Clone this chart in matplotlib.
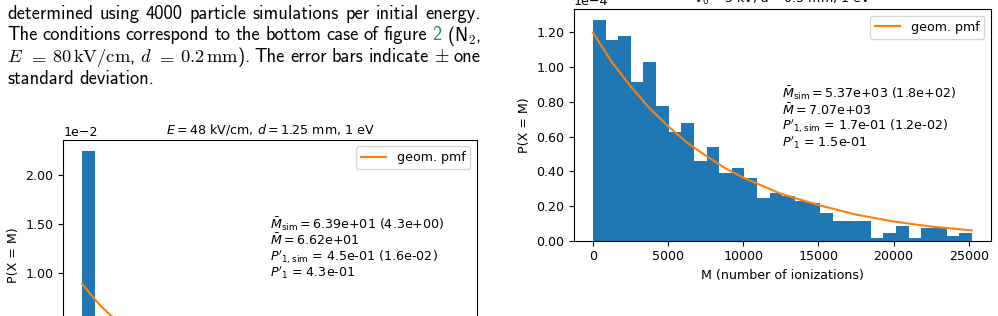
import matplotlib
matplotlib.use("Agg")
import matplotlib.pyplot as plt
import numpy as np
from matplotlib.ticker import ScalarFormatter, MultipleLocator

plt.rcParams['font.size'] = 9.1
plt.rcParams['axes.titlesize'] = 9.1

# left panel: E = 48 kV/cm, d = 1.25 mm (only the top part is visible)
left_heights = np.array([2.25, 0.52, 0.47, 0.40, 0.36, 0.31, 0.27, 0.24, 0.20, 0.18,
                         0.15, 0.13, 0.11, 0.10, 0.08, 0.07, 0.06, 0.05, 0.04, 0.035,
                         0.03, 0.025, 0.02, 0.015, 0.012, 0.01, 0.008, 0.006, 0.004, 0.003]) * 1e-2
left_edges = np.linspace(0, 400, 31)
left_pmf_m = [0, 10, 20, 30, 40, 60, 100, 200, 400]
left_pmf = np.array([0.89, 0.77, 0.66, 0.57, 0.49, 0.37, 0.20, 0.046, 0.0024]) * 1e-2
left_stats = [r'$\bar{M}_\mathrm{sim} = $6.39e+01 (4.3e+00)',
              r'$\bar{M} = $6.62e+01',
              r"$P'_{1,\mathrm{sim}}$ = 4.5e-01 (1.6e-02)",
              r"$P'_1$ = 4.3e-01"]

# right panel: V0 = 5 kV, d = 0.5 mm
right_heights = np.array([1.27, 1.154, 1.182, 0.913, 1.028, 0.778, 0.624, 0.680, 0.46, 0.537,
                          0.392, 0.420, 0.360, 0.246, 0.277, 0.258, 0.227, 0.217, 0.161, 0.113,
                          0.113, 0.113, 0.015, 0.044, 0.084, 0.015, 0.073, 0.073, 0.027, 0.044]) * 1e-4
right_edges = np.linspace(0, 25200, 31)
right_pmf_m = [0, 1250, 2500, 3750, 5000, 6250, 7500, 8750, 10000, 12500, 15000,
               17500, 20000, 22500, 25200]
right_pmf = np.array([1.20, 1.03, 0.89, 0.765, 0.66, 0.565, 0.49, 0.42, 0.363, 0.27, 0.205,
                      0.150, 0.110, 0.081, 0.059]) * 1e-4
right_stats = [r'$\bar{M}_\mathrm{sim} = $5.37e+03 (1.8e+02)',
               r'$\bar{M} = $7.07e+03',
               r"$P'_{1,\mathrm{sim}}$ = 1.7e-01 (1.2e-02)",
               r"$P'_1$ = 1.5e-01"]
stat_rows = [0.636, 0.565, 0.494, 0.424]

W, H = 998, 316
fig = plt.figure(figsize=(W / 100, H / 100), dpi=100)


class TwoDec(ScalarFormatter):
    def _set_format(self):
        self.format = '%1.2f'


def panel(rect, edges, heights, pm, pv, stats, title, step, xlabel=None):
    ax = fig.add_axes(rect)
    ax.bar(edges[:-1], heights, width=np.diff(edges), align='edge', color='#1f77b4')
    ax.plot(pm, pv, color='#ff7f0e', label='geom. pmf')
    ax.yaxis.set_major_locator(MultipleLocator(step))
    ax.yaxis.set_major_formatter(TwoDec())
    ax.ticklabel_format(axis='y', style='sci', scilimits=(0, 0))
    ax.set_ylabel('P(X = M)')
    if xlabel:
        ax.set_xlabel(xlabel)
    ax.set_title(title, pad=4.5)
    ax.legend(loc='upper right')
    for s, yr in zip(stats, stat_rows):
        ax.text(0.5, yr, s, transform=ax.transAxes, va='center')
    return ax


panel([63.3 / W, (316 - 370.6) / H, 413.4 / W, 230.6 / H], left_edges, left_heights,
      left_pmf_m, left_pmf, left_stats, r'$E = 48$ kV/cm, $d = 1.25$ mm, 1 eV', 0.5e-2)
panel([574 / W, (316 - 240.6) / H, 416.7 / W, 231.3 / H], right_edges, right_heights,
      right_pmf_m, right_pmf, right_stats, r'$V_0 = 5$ kV, $d = 0.5$ mm, 1 eV', 0.2e-4,
      xlabel='M (number of ionizations)')

# caption text of the page, justified word by word
renderer = fig.canvas.get_renderer()
teal = '#2f8080'
lines = [
    ('determined using 4000 particle simulations per initial energy.'.split(), 19, False),
    ('The conditions correspond to the bottom case of figure'.split() + [('2', teal), r'(N$_\mathsf{2}$,'], 40.5, False),
    ([r'$E$', r'$=$', r'$80\,\mathrm{kV/cm}$,', r'$d$', r'$=$', r'$0.2\,\mathrm{mm}$).',
      'The', 'error', 'bars', 'indicate', r'$\pm$', 'one'], 62, False),
    ('standard deviation.'.split(), 83.5, True),
]
x0, x1 = 7, 481
for words, yb, last in lines:
    arts = []
    for w in words:
        txt, col = (w if isinstance(w, tuple) else (w, 'black'))
        arts.append(fig.text(0, 1 - yb / H, txt, color=col, family='cmss10', fontsize=13.3,
                             va='baseline', math_fontfamily='cm'))
    widths = [a.get_window_extent(renderer).width for a in arts]
    gap = 5.5 if last else (x1 - x0 - sum(widths)) / (len(words) - 1)
    x = x0
    for a, w in zip(arts, widths):
        a.set_x(x / W)
        x += w + gap

fig.savefig('out.png', dpi=100)
